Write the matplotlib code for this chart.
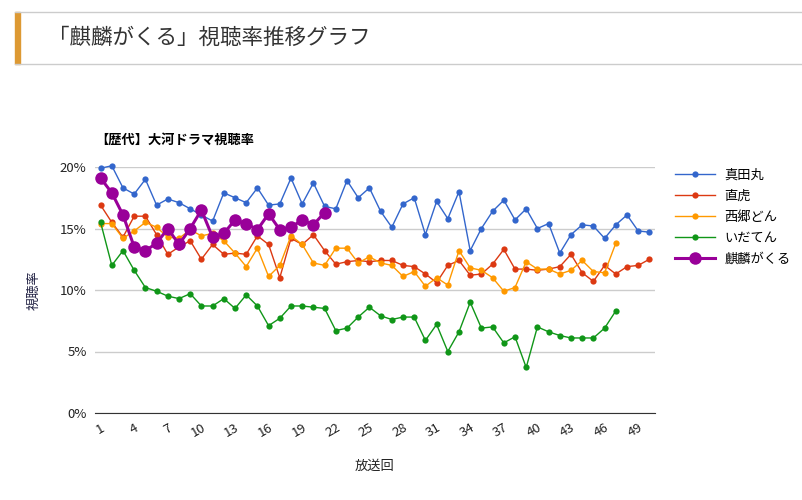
import matplotlib
matplotlib.use("Agg")
import matplotlib.pyplot as plt
from matplotlib.patches import Rectangle
from matplotlib.lines import Line2D

plt.rcParams['font.family'] = ['Noto Sans CJK JP', 'DejaVu Sans']

# ratings (%) per episode
sanada = [19.9, 20.1, 18.3, 17.8, 19.0, 16.9, 17.4, 17.1, 16.6, 16.1,
          15.6, 17.9, 17.5, 17.1, 18.3, 16.9, 17.0, 19.1, 17.0, 18.7,
          16.8, 16.6, 18.9, 17.5, 18.3, 16.4, 15.1, 17.0, 17.5, 14.5,
          17.2, 15.8, 18.0, 13.2, 15.0, 16.4, 17.3, 15.7, 16.6, 15.0,
          15.4, 13.0, 14.5, 15.3, 15.2, 14.2, 15.3, 16.1, 14.8, 14.7]
naotora = [16.9, 15.5, 14.3, 16.0, 16.0, 14.5, 12.9, 13.5, 14.0, 12.5,
           13.7, 12.9, 13.0, 12.9, 14.4, 13.7, 11.0, 14.2, 13.7, 14.5,
           13.2, 12.1, 12.3, 12.4, 12.3, 12.4, 12.4, 12.0, 11.9, 11.3,
           10.6, 12.0, 12.4, 11.2, 11.3, 12.1, 13.3, 11.7, 11.7, 11.6,
           11.7, 11.9, 12.9, 11.4, 10.7, 12.0, 11.3, 11.9, 12.0, 12.5]
segodon = [15.4, 15.4, 14.2, 14.8, 15.5, 15.1, 14.3, 14.2, 14.9, 14.4,
           14.6, 14.0, 13.0, 11.9, 13.4, 11.1, 12.0, 14.4, 13.7, 12.2,
           12.0, 13.4, 13.4, 12.2, 12.7, 12.2, 12.0, 11.1, 11.5, 10.3,
           11.0, 10.4, 13.2, 11.8, 11.6, 11.0, 9.9, 10.2, 12.3, 11.7,
           11.7, 11.3, 11.6, 12.4, 11.5, 11.4, 13.8]
idaten = [15.5, 12.0, 13.2, 11.6, 10.2, 9.9, 9.5, 9.3, 9.7, 8.7,
          8.7, 9.3, 8.5, 9.6, 8.7, 7.1, 7.7, 8.7, 8.7, 8.6,
          8.5, 6.7, 6.9, 7.8, 8.6, 7.9, 7.6, 7.8, 7.8, 5.9,
          7.2, 5.0, 6.6, 9.0, 6.9, 7.0, 5.7, 6.2, 3.7, 7.0,
          6.6, 6.3, 6.1, 6.1, 6.1, 6.9, 8.3]
kirin = [19.1, 17.9, 16.1, 13.5, 13.2, 13.8, 15.0, 13.7, 15.0, 16.5,
         14.3, 14.6, 15.7, 15.4, 14.9, 16.2, 14.9, 15.1, 15.7, 15.3,
         16.3]

names = ['真田丸', '直虎', '西郷どん', 'いだてん', '麒麟がくる']
colors = ['#3366cc', '#dc3912', '#ff9900', '#109618', '#990099']
yticks = [0, 5, 10, 15, 20]
xticks = list(range(1, 50, 3))

fig = plt.figure(figsize=(8.03, 5.0), dpi=100)

# page header
fig.add_artist(Line2D([15 / 803, 1], [1 - 12 / 500] * 2, color='#cccccc', lw=1))
fig.add_artist(Line2D([15 / 803, 1], [1 - 64 / 500] * 2, color='#cccccc', lw=1))
fig.add_artist(Rectangle((15 / 803, 1 - 64 / 500), 5 / 803, 52 / 500,
                         color='#dd9933', transform=fig.transFigure))
fig.text(48 / 803, 1 - 38 / 500, '「麒麟がくる」視聴率推移グラフ',
         fontsize=15.5, color='#333333', va='center', ha='left')
fig.text(95 / 803, 1 - 140 / 500, '【歴代】大河ドラマ視聴率',
         fontsize=9.5, fontweight='bold', color='#000000', va='center', ha='left')

ax = fig.add_axes([95 / 803, 87 / 500, 560 / 803, 246 / 500])

series = [sanada, naotora, segodon, idaten]
for vals, name, c in zip(series, names[:4], colors[:4]):
    ep = list(range(1, len(vals) + 1))
    ax.plot(ep, vals, color=c, lw=1.0, marker='o', markersize=4.5,
            markeredgewidth=0, label=name, clip_on=False)
ep = list(range(1, len(kirin) + 1))
ax.plot(ep, kirin, color=colors[4], lw=2.2, marker='o', markersize=9,
        markeredgewidth=0, label=names[4], clip_on=False)

ax.set_xlim(0.5, 50.5)
ax.set_ylim(0, 20)
ax.set_yticks(yticks)
ax.set_yticklabels([f'{v}%' for v in yticks], fontsize=9.5, color='#222222')
ax.set_xticks(xticks)
ax.set_xticklabels([str(v) for v in xticks], fontsize=9.5, color='#222222',
                   rotation=30, ha='right', rotation_mode='anchor')
ax.grid(axis='y', color='#cccccc', lw=1)
ax.set_axisbelow(True)
for s in ['top', 'right', 'left']:
    ax.spines[s].set_visible(False)
ax.spines['bottom'].set_color('#333333')
ax.tick_params(length=0, pad=6)
ax.set_ylabel('視聴率', fontsize=9.5, color='#222244', labelpad=14)
ax.set_xlabel('放送回', fontsize=9.5, color='#222222', labelpad=14)

ax.legend(loc='upper left', bbox_to_anchor=(670 / 803, 1 - 163 / 500),
          bbox_transform=fig.transFigure, frameon=False, fontsize=9.5,
          handlelength=3.0, handletextpad=0.7, labelspacing=0.62,
          borderaxespad=0)

fig.savefig('out.png', dpi=100)
